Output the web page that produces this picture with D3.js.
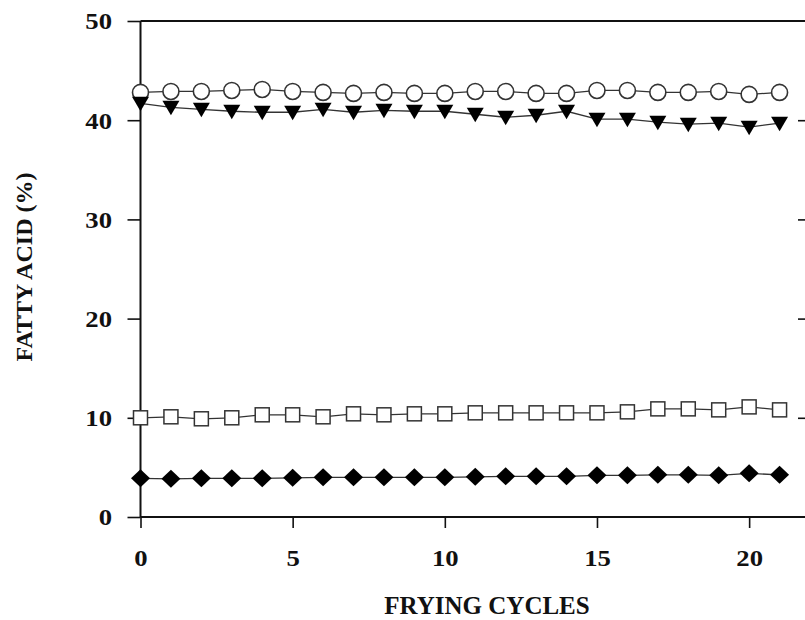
<!DOCTYPE html>
<html>
<head>
<meta charset="utf-8">
<script src="https://cdn.jsdelivr.net/npm/d3@7"></script>
<style>
  html, body { margin: 0; padding: 0; background: #fff; }
  svg { display: block; }
  text { font-family: "Liberation Serif", "Times New Roman", serif; font-weight: bold; fill: #111; }
</style>
</head>
<body>
<svg id="chart" width="805" height="620"></svg>
<script>
// ---- Data ----
const cycles = [0,1,2,3,4,5,6,7,8,9,10,11,12,13,14,15,16,17,18,19,20,21];
const seriesCircle = [42.8,42.9,42.9,43.0,43.1,42.9,42.8,42.7,42.8,42.7,42.7,42.9,42.9,42.7,42.7,43.0,43.0,42.8,42.8,42.9,42.6,42.8];
const seriesTriangle = [41.7,41.3,41.1,40.9,40.8,40.8,41.1,40.8,41.0,40.9,40.9,40.6,40.3,40.5,40.9,40.1,40.1,39.8,39.6,39.7,39.3,39.7];
const seriesSquare = [10.0,10.1,9.9,10.0,10.3,10.3,10.1,10.4,10.3,10.4,10.4,10.5,10.5,10.5,10.5,10.5,10.6,10.9,10.9,10.8,11.1,10.8];
const seriesDiamond = [3.9,3.85,3.9,3.9,3.9,3.95,4.0,4.0,4.0,4.0,4.0,4.05,4.1,4.1,4.1,4.2,4.2,4.25,4.25,4.2,4.4,4.25];
const xTicks = [0,5,10,15,20];
const yTicks = [0,10,20,30,40,50];
const yRightTicks = [10,20,30,40];
const xTitle = "FRYING CYCLES";
const yTitle = "FATTY ACID (%)";

// ---- Layout ----
const svg = d3.select("#chart");
const pLeft = 140.5, pRight = 810, pTop = 21, pBottom = 517;
const x = d3.scaleLinear().domain([0, 22]).range([pLeft, pRight]);
const y = d3.scaleLinear().domain([0, 50]).range([pBottom, pTop]);
const FONT = '"Liberation Serif", "Times New Roman", serif';
const STRETCH = 1.16;

function stretch(sel) {
  sel.each(function() {
    const w = this.getComputedTextLength();
    d3.select(this).attr("textLength", w * STRETCH).attr("lengthAdjust", "spacingAndGlyphs");
  });
}

// Frame
const frame = svg.append("g").attr("stroke", "#111").attr("stroke-width", 2).attr("fill", "none");
frame.append("line").attr("x1", pLeft).attr("x2", pLeft).attr("y1", pTop).attr("y2", pBottom);
frame.append("line").attr("x1", pLeft).attr("x2", pRight).attr("y1", pBottom).attr("y2", pBottom);
frame.append("line").attr("x1", pLeft).attr("x2", pRight).attr("y1", pTop).attr("y2", pTop);
frame.append("line").attr("x1", pRight).attr("x2", pRight).attr("y1", pTop).attr("y2", pBottom);

// Axes
const yAxis = d3.axisLeft(y).tickValues(yTicks).tickSize(13).tickSizeOuter(0).tickPadding(14).tickFormat(d3.format("d"));
const gy = svg.append("g").attr("transform", `translate(${pLeft},0)`).call(yAxis);
gy.select(".domain").remove();
gy.selectAll(".tick line").attr("stroke", "#111").attr("stroke-width", 1.6);
gy.selectAll(".tick text").attr("font-size", 23).attr("fill", "#111").attr("x", -28.5).attr("dy", "0.34em")
  .style("font-family", FONT).style("font-weight", "bold").call(stretch);

const xAxis = d3.axisBottom(x).tickValues(xTicks).tickSize(11).tickSizeOuter(0).tickFormat(d3.format("d"));
const gx = svg.append("g").attr("transform", `translate(0,${pBottom})`).call(xAxis);
gx.select(".domain").remove();
gx.selectAll(".tick line").attr("stroke", "#111").attr("stroke-width", 1.6);
gx.selectAll(".tick text").attr("font-size", 23).attr("fill", "#111").attr("y", 49).attr("dy", 0)
  .style("font-family", FONT).style("font-weight", "bold").call(stretch);

const yAxisR = d3.axisLeft(y).tickValues(yRightTicks).tickSize(12).tickSizeOuter(0).tickFormat("");
const gyr = svg.append("g").attr("transform", `translate(${pRight},0)`).call(yAxisR);
gyr.select(".domain").remove();
gyr.selectAll(".tick line").attr("stroke", "#111").attr("stroke-width", 1.6);

// Titles
svg.append("text").attr("x", 487).attr("y", 614).attr("text-anchor", "middle").attr("font-size", 25).text(xTitle);
svg.append("text").attr("transform", "translate(32,267) rotate(-90)").attr("text-anchor", "middle").attr("font-size", 24).text(yTitle);

// Series
const series = [
  { values: seriesCircle, shape: "circle" },
  { values: seriesTriangle, shape: "triangle" },
  { values: seriesSquare, shape: "square" },
  { values: seriesDiamond, shape: "diamond" }
];
const line = d3.line().x((d, i) => x(cycles[i])).y(d => y(d));

series.forEach(s => {
  svg.append("path").datum(s.values).attr("d", line)
    .attr("fill", "none").attr("stroke", "#333").attr("stroke-width", 1.3);
});

series.forEach(s => {
  const g = svg.append("g");
  const pts = s.values.map((v, i) => [x(cycles[i]), y(v)]);
  if (s.shape === "circle") {
    g.selectAll("circle").data(pts).join("circle")
      .attr("cx", d => d[0]).attr("cy", d => d[1]).attr("r", 8)
      .attr("fill", "#fff").attr("stroke", "#333").attr("stroke-width", 1.6);
  } else if (s.shape === "triangle") {
    g.selectAll("path").data(pts).join("path")
      .attr("d", d => `M${d[0]-8.5},${d[1]-6.5}L${d[0]+8.5},${d[1]-6.5}L${d[0]},${d[1]+8}Z`)
      .attr("fill", "#000");
  } else if (s.shape === "square") {
    g.selectAll("rect").data(pts).join("rect")
      .attr("x", d => d[0]-7).attr("y", d => d[1]-7).attr("width", 14).attr("height", 14)
      .attr("fill", "#fff").attr("stroke", "#333").attr("stroke-width", 1.5);
  } else {
    g.selectAll("path").data(pts).join("path")
      .attr("d", d => `M${d[0]},${d[1]-9}L${d[0]+9.5},${d[1]}L${d[0]},${d[1]+9}L${d[0]-9.5},${d[1]}Z`)
      .attr("fill", "#000");
  }
});
</script>
</body>
</html>
